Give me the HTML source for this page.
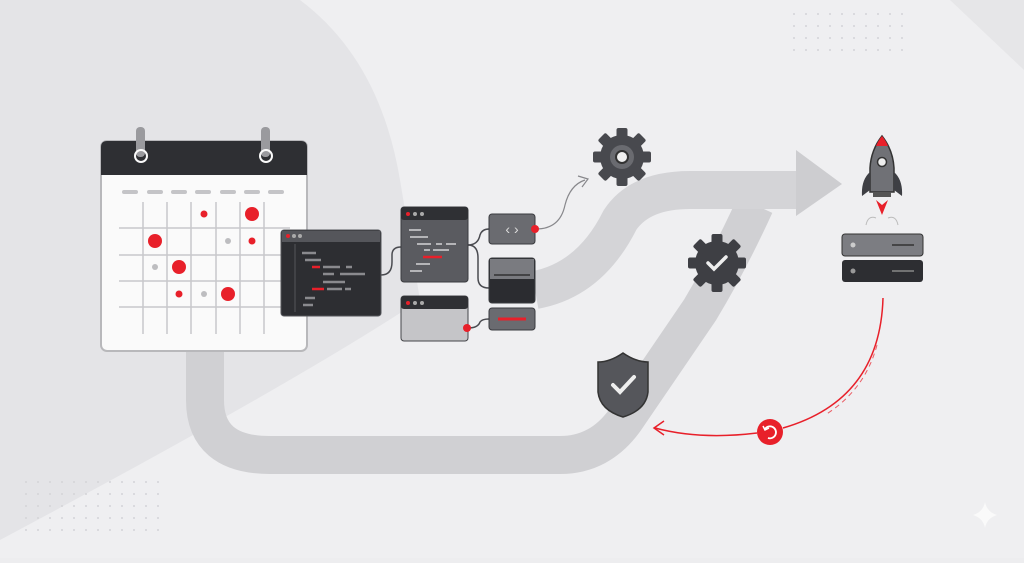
<!DOCTYPE html>
<html><head><style>
body{margin:0;width:1024px;height:558px;overflow:hidden;background:#ededef;font-family:"Liberation Sans",sans-serif}
</style></head><body>
<svg width="1024" height="558" viewBox="0 0 1024 558" xmlns="http://www.w3.org/2000/svg">
<defs><pattern id="dots" width="12" height="12" patternUnits="userSpaceOnUse"><circle cx="2" cy="2" r="1" fill="#d4d4d7"/></pattern></defs>
<rect width="1024" height="558" fill="#efeff1"/>
<path d="M0 0 H300 Q380 60 400 180 L420 300 Q300 380 0 540 Z" fill="#e4e4e7"/>
<path d="M950 0 H1024 V70 Z" fill="#e6e6e8"/>
<rect x="20" y="480" width="140" height="60" fill="url(#dots)"/>
<rect x="790" y="5" width="120" height="50" fill="url(#dots)"/>
<g fill="none" stroke-linecap="butt">
<path d="M205 350 V400 Q205 455 270 455 H560 Q600 455 625 420 L700 310 Q730 260 755 205" stroke="#d0d0d3" stroke-width="38"/>
<path d="M535 290 Q590 280 620 220 Q640 190 690 190 H800" stroke="#d4d4d7" stroke-width="38"/>
</g>
<path d="M796 150 L842 184 L796 216 Z" fill="#cdcdd0"/>
<rect x="101" y="141" width="206" height="210" rx="6" fill="#fafafa" stroke="#b8b8bb" stroke-width="2"/>
<path d="M107 141 H301 Q307 141 307 147 V175 H101 V147 Q101 141 107 141Z" fill="#2e2f33"/>
<rect x="136" y="127" width="9" height="30" rx="4" fill="#9a9a9e"/><circle cx="141" cy="156" r="6" fill="none" stroke="#fafafa" stroke-width="2"/>
<rect x="261" y="127" width="9" height="30" rx="4" fill="#9a9a9e"/><circle cx="266" cy="156" r="6" fill="none" stroke="#fafafa" stroke-width="2"/>
<g stroke="#c4c4c7" stroke-width="4" stroke-linecap="round">
<path d="M124 192h12M149 192h12M173 192h12M197 192h12M222 192h12M246 192h12M270 192h12"/></g>
<g stroke="#c8c8cb" stroke-width="1.5">
<path d="M143 202V334M167 202V334M191 202V334M216 202V334M240 202V334M264 202V334M119 228H290M119 255H290M119 281H290M119 307H290"/></g>
<g fill="#e8202a"><circle cx="204" cy="214" r="3.5"/><circle cx="252" cy="214" r="7"/><circle cx="155" cy="241" r="7"/><circle cx="252" cy="241" r="3.5"/><circle cx="179" cy="267" r="7"/><circle cx="179" cy="294" r="3.5"/><circle cx="228" cy="294" r="7"/></g>
<g fill="#bdbdc0"><circle cx="228" cy="241" r="3"/><circle cx="155" cy="267" r="3"/><circle cx="204" cy="294" r="3"/></g>
<g fill="none" stroke="#4a4b50" stroke-width="1.5">
<path d="M381 275 Q392 275 392 262 V255 Q392 247 401 247"/>
<path d="M468 245 Q478 245 480 235 Q482 229 489 229"/>
<path d="M468 245 Q478 245 478 258 V278 Q478 288 489 288"/>
<path d="M468 328 Q478 328 480 322 Q482 319 489 319"/>
</g>
<path d="M536 229 Q560 229 565 205 Q570 185 585 180" fill="none" stroke="#88888c" stroke-width="1.2"/>
<path d="M578 176 L588 179 L582 187" fill="none" stroke="#88888c" stroke-width="1.2"/>
<rect x="281" y="230" width="100" height="86" rx="3" fill="#2d2e32" stroke="#55565b"/>
<rect x="282" y="231" width="98" height="11" fill="#55565b"/>
<circle cx="288" cy="236" r="2" fill="#e8202a"/><circle cx="294" cy="236" r="2" fill="#aaa"/><circle cx="300" cy="236" r="2" fill="#aaa"/>
<line x1="295" y1="244" x2="295" y2="312" stroke="#55565b"/>
<g stroke="#8a8a8e" stroke-width="2.5"><path d="M302 253h14M305 260h16M323 267h17M346 267h6M323 274h11M340 274h25M323 282h22M327 289h15M345 289h6M305 298h10M303 305h10"/></g>
<g stroke="#e8202a" stroke-width="2.5"><path d="M312 267h8M312 289h12"/></g>
<rect x="401" y="207" width="67" height="75" rx="3" fill="#5a5b60" stroke="#3a3b3f"/>
<rect x="401" y="207" width="67" height="13" rx="3" fill="#2f3034"/>
<circle cx="408" cy="214" r="2" fill="#e8202a"/><circle cx="415" cy="214" r="2" fill="#aaa"/><circle cx="422" cy="214" r="2" fill="#aaa"/>
<g stroke="#b5b5b8" stroke-width="2"><path d="M409 230h12M410 237h18M417 244h14M436 244h6M446 244h10M424 250h6M433 250h16M416 264h14M410 271h12"/></g>
<path d="M423 257h19" stroke="#e8202a" stroke-width="2.5"/>
<rect x="401" y="296" width="67" height="45" rx="3" fill="#c5c5c8" stroke="#45464a"/>
<rect x="401" y="296" width="67" height="13" rx="3" fill="#2f3034"/>
<circle cx="408" cy="303" r="2" fill="#e8202a"/><circle cx="415" cy="303" r="2" fill="#aaa"/><circle cx="422" cy="303" r="2" fill="#aaa"/>
<circle cx="467" cy="328" r="4" fill="#e8202a"/>
<rect x="489" y="214" width="46" height="30" rx="3" fill="#6a6b70" stroke="#3a3b3f"/>
<text x="512" y="234" font-size="14" fill="#ddd" text-anchor="middle">‹  ›</text>
<circle cx="535" cy="229" r="4" fill="#e8202a"/>
<rect x="489" y="258" width="46" height="45" rx="3" fill="#2b2c30" stroke="#3a3b3f"/>
<rect x="490" y="259" width="44" height="20" fill="#7a7b80"/>
<path d="M494 275h36" stroke="#333" stroke-width="1.5"/>
<rect x="489" y="308" width="46" height="22" rx="3" fill="#6a6b70" stroke="#3a3b3f"/>
<path d="M498 319h28" stroke="#e8202a" stroke-width="3"/>
<g transform="translate(622,157)">
<g fill="#48494e">
<circle r="22"/>
<g id="t"><rect x="-5.5" y="-29" width="11" height="12" rx="2"/></g>
<use href="#t" transform="rotate(45)"/><use href="#t" transform="rotate(90)"/><use href="#t" transform="rotate(135)"/><use href="#t" transform="rotate(180)"/><use href="#t" transform="rotate(225)"/><use href="#t" transform="rotate(270)"/><use href="#t" transform="rotate(315)"/>
</g>
<circle r="12" fill="#6a6b70"/><circle r="6" fill="#f0f0f0" stroke="#333" stroke-width="2"/>
</g>
<g transform="translate(717,263)">
<g fill="#3e3f44"><circle r="22"/>
<use href="#t"/><use href="#t" transform="rotate(45)"/><use href="#t" transform="rotate(90)"/><use href="#t" transform="rotate(135)"/><use href="#t" transform="rotate(180)"/><use href="#t" transform="rotate(225)"/><use href="#t" transform="rotate(270)"/><use href="#t" transform="rotate(315)"/></g>
<path d="M-9 0 L-3 6 L9 -6" fill="none" stroke="#eee" stroke-width="3.5" stroke-linecap="round"/>
</g>
<path d="M623 353 Q610 362 598 362 V392 Q600 410 623 417 Q646 410 648 392 V362 Q636 362 623 353Z" fill="#55565b" stroke="#333" stroke-width="1.5"/>
<path d="M613 385 L620 392 L634 377" fill="none" stroke="#eee" stroke-width="4" stroke-linecap="round"/>
<path d="M882 136 Q893 150 894 168 L894 192 H870 V168 Q871 150 882 136Z" fill="#707176" stroke="#333" stroke-width="1.5"/>
<path d="M882 136 Q878 141 876 146 H888 Q886 141 882 136Z" fill="#e8202a"/>
<circle cx="882" cy="162" r="4.5" fill="#eee" stroke="#333" stroke-width="1.5"/>
<path d="M870 172 Q861 180 862 196 L870 190Z M894 172 Q903 180 902 196 L894 190Z" fill="#3e3f44"/>
<rect x="873" y="192" width="18" height="5" fill="#555"/>
<path d="M876 200 L882 215 L888 200 L882 205Z" fill="#e8202a"/>
<path d="M866 225 Q868 215 876 218 M898 225 Q896 215 888 218" fill="none" stroke="#bbb"/>
<rect x="842" y="234" width="81" height="22" rx="3" fill="#7c7d82" stroke="#333"/>
<rect x="842" y="260" width="81" height="22" rx="3" fill="#2d2e32"/>
<circle cx="853" cy="245" r="2.5" fill="#ccc"/><circle cx="853" cy="271" r="2.5" fill="#999"/>
<path d="M892 245h22" stroke="#333" stroke-width="1.5"/>
<path d="M892 271h22" stroke="#888" stroke-width="1.5"/>
<path d="M883 298 Q880 400 783 428" fill="none" stroke="#e8202a" stroke-width="1.5"/>
<path d="M757 433 Q700 440 655 428" fill="none" stroke="#e8202a" stroke-width="1.5"/>
<path d="M664 421 L654 428 L664 435" fill="none" stroke="#e8202a" stroke-width="1.5"/>
<path d="M877 345 Q865 390 825 415" fill="none" stroke="#e8202a" stroke-width="1" stroke-dasharray="5 4" opacity="0.7"/>
<circle cx="770" cy="432" r="13" fill="#e8202a"/>
<path d="M765 429 A6 6 0 1 1 768 438" fill="none" stroke="#fff" stroke-width="1.8"/>
<path d="M763 426 L765 430 L769 428" fill="none" stroke="#fff" stroke-width="1.5"/>
<path d="M985 502 Q987 512 997 515 Q987 518 985 528 Q983 518 973 515 Q983 512 985 502Z" fill="#fafafa"/>
</svg>
</body></html>
